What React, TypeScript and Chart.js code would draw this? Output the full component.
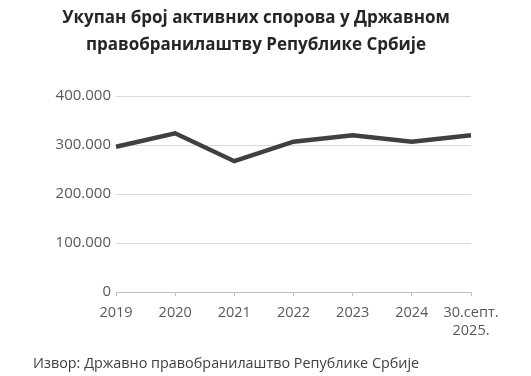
import React, { useEffect, useRef } from "react";
import { Chart, registerables } from "chart.js";

Chart.register(...registerables);

const titleLines = ["Укупан број активних спорова у Државном", "правобранилаштву Републике Србије"];
const sourceText = "Извор: Државно правобранилаштво Републике Србије";
const categories: (string | string[])[] = ["2019", "2020", "2021", "2022", "2023", "2024", ["30.септ.", "2025."]];
const values = [296500, 323800, 267000, 306800, 320000, 306800, 320000];
const yTicks = [0, 100000, 200000, 300000, 400000];

const fmt = (v: number) => (v === 0 ? "0" : v.toLocaleString("de-DE"));

const textPlugin = {
  id: "texts",
  afterDraw(chart: any) {
    const ctx = chart.ctx;
    ctx.save();
    ctx.fillStyle = "#262626";
    ctx.font = "bold 17px 'Open Sans'";
    ctx.textAlign = "center";
    ctx.textBaseline = "middle";
    ctx.fillText(titleLines[0], 256, 18);
    ctx.fillText(titleLines[1], 256, 45);
    ctx.fillStyle = "#404040";
    ctx.font = "14.4px 'Open Sans'";
    ctx.textAlign = "left";
    ctx.fillText(sourceText, 33, 364);
    ctx.restore();
  },
};

export default function App() {
  const ref = useRef<HTMLCanvasElement>(null);
  useEffect(() => {
    document.body.style.margin = "0";
    const chart = new Chart(ref.current!, {
      type: "line",
      data: {
        labels: categories,
        datasets: [
          {
            data: values,
            borderColor: "#404040",
            borderWidth: 4.5,
            pointRadius: 0,
            tension: 0,
            fill: false,
          },
        ],
      },
      options: {
        animation: false,
        responsive: false,
        maintainAspectRatio: false,
        layout: { padding: { left: 0, right: 60, top: 96, bottom: 0 } },
        plugins: { legend: { display: false }, tooltip: { enabled: false } },
        scales: {
          x: {
            offset: false,
            grid: { drawOnChartArea: false, drawTicks: true, tickLength: 4, color: "#bfbfbf" },
            border: { color: "#bfbfbf", width: 1 },
            ticks: {
              color: "#595959",
              font: { family: "'Open Sans'", size: 14.5, lineHeight: 1.25 },
              padding: 8,
              maxRotation: 0,
              autoSkip: false,
            },
            afterFit(scale: any) {
              scale.height = 84;
            },
          },
          y: {
            min: 0,
            max: 400000,
            afterBuildTicks(scale: any) {
              scale.ticks = yTicks.map((v) => ({ value: v }));
            },
            grid: { drawTicks: false, color: "#d9d9d9" },
            border: { display: false },
            ticks: {
              color: "#595959",
              font: { family: "'Open Sans'", size: 15 },
              padding: 5,
              callback: (v: any) => fmt(Number(v)),
            },
            afterFit(scale: any) {
              scale.width = 116;
            },
          },
        },
      },
      plugins: [textPlugin],
    });
    return () => chart.destroy();
  }, []);
  return (
    <div style={{ position: "relative", width: 531, height: 376, background: "#fff" }}>
      <canvas ref={ref} width={531} height={376} style={{ width: 531, height: 376 }} />
    </div>
  );
}
